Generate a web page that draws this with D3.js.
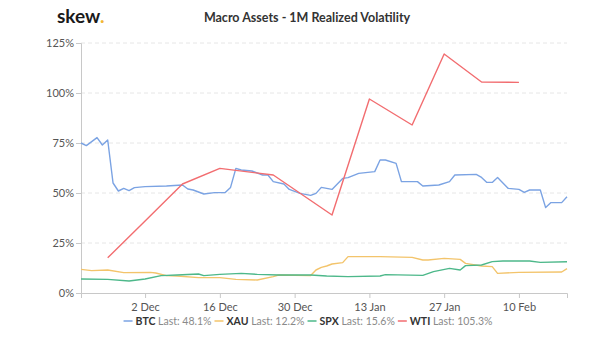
<!DOCTYPE html>
<html>
<head>
<meta charset="utf-8">
<script src="https://cdn.jsdelivr.net/npm/d3@7"></script>
<style>
  html, body { margin: 0; padding: 0; background: #fff; }
  svg { display: block; font-family: Lato, "Open Sans", sans-serif; }
</style>
</head>
<body>
<svg id="chart" width="600" height="338"></svg>
<script>
// ---- data ----
const btcDates = ["2019-11-20","2019-11-21","2019-11-23","2019-11-24","2019-11-25","2019-11-26","2019-11-27","2019-11-28","2019-11-29","2019-11-30","2019-12-02","2019-12-06","2019-12-09","2019-12-10","2019-12-11","2019-12-13","2019-12-15","2019-12-17","2019-12-18","2019-12-19","2019-12-20","2019-12-22","2019-12-24","2019-12-25","2019-12-26","2019-12-28","2019-12-29","2019-12-31","2020-01-02","2020-01-03","2020-01-04","2020-01-06","2020-01-08","2020-01-09","2020-01-11","2020-01-14","2020-01-15","2020-01-16","2020-01-18","2020-01-19","2020-01-22","2020-01-23","2020-01-26","2020-01-28","2020-01-29","2020-02-02","2020-02-03","2020-02-04","2020-02-05","2020-02-06","2020-02-08","2020-02-10","2020-02-11","2020-02-12","2020-02-14","2020-02-15","2020-02-16","2020-02-18","2020-02-19"];
const btcValues = [75,73.7,77.7,74,76.5,55,51,52.3,51.2,52.7,53.2,53.5,54,52,51.5,49.5,50.2,50.2,52.8,62.3,61.5,61,59,59,55.7,54.5,51.8,49.8,48.8,49.8,52.8,51.8,57.3,57.7,59.8,60.7,66.5,66.5,64.8,55.7,55.7,53.5,54,55.7,59,59.3,57.8,55.3,55.3,57.7,52.3,51.8,50.3,51.5,51.5,42.7,45.2,45.2,48.1];

const xauDates = ["2019-11-20","2019-11-22","2019-11-25","2019-11-28","2019-12-03","2019-12-04","2019-12-06","2019-12-08","2019-12-12","2019-12-16","2019-12-19","2019-12-23","2019-12-26","2019-12-27","2020-01-02","2020-01-03","2020-01-04","2020-01-05","2020-01-06","2020-01-08","2020-01-09","2020-01-15","2020-01-21","2020-01-23","2020-01-24","2020-01-27","2020-01-30","2020-01-31","2020-02-03","2020-02-05","2020-02-06","2020-02-10","2020-02-18","2020-02-19"];
const xauValues = [11.8,11.2,11.5,10.2,10.3,10,8.7,8.5,7.7,7.7,6.8,6.5,8.2,9,8.7,11.5,12.8,13.5,14.5,15.2,18.2,18.2,17.8,16.5,16.5,17.3,16.8,14.8,13.5,13.2,9.8,10.3,10.5,12.2];

const spxDates = ["2019-11-20","2019-11-25","2019-11-29","2019-12-02","2019-12-05","2019-12-08","2019-12-12","2019-12-13","2019-12-16","2019-12-20","2019-12-23","2019-12-27","2020-01-02","2020-01-05","2020-01-09","2020-01-15","2020-01-16","2020-01-23","2020-01-25","2020-01-28","2020-01-30","2020-01-31","2020-02-03","2020-02-05","2020-02-07","2020-02-12","2020-02-14","2020-02-19"];
const spxValues = [7,6.8,6,7,8.7,9,9.5,8.7,9.3,9.8,9.3,9,9,8.5,8.2,8.5,9.2,8.8,10.7,12.3,11.5,13.7,14,15.7,16,16,15.3,15.6];

const wtiDates = ["2019-11-25","2019-12-02","2019-12-09","2019-12-16","2019-12-26","2020-01-06","2020-01-13","2020-01-21","2020-01-27","2020-02-03","2020-02-10"];
const wtiValues = [17.6,36,54.5,62.3,59,39,97,84,119.5,105.5,105.3];

const seriesNames = ["BTC","XAU","SPX","WTI"];
const seriesLast = ["48.1%","12.2%","15.6%","105.3%"];
const yTicks = [0,25,50,75,100,125];
const xTickDates = ["2019-12-02","2019-12-16","2019-12-30","2020-01-13","2020-01-27","2020-02-10"];
const xDomain = ["2019-11-20","2020-02-19"];
const titleText = "Macro Assets - 1M Realized Volatility";

// ---- chart ----
const colors = {BTC:"#7ba3e3", XAU:"#f3c46b", SPX:"#4db88a", WTI:"#f26d70"};
const parse = d3.timeParse("%Y-%m-%d");
const svg = d3.select("#chart");

const x = d3.scaleTime().domain(xDomain.map(parse)).range([81, 567]);
const y = d3.scaleLinear().domain([0,125]).range([293, 43]);

// gridlines
svg.append("g").selectAll("line").data(yTicks.filter(t=>t>0)).join("line")
  .attr("x1", 81).attr("x2", 567)
  .attr("y1", d=>y(d)).attr("y2", d=>y(d))
  .attr("stroke", "#e6e6e6").attr("stroke-width", 1).attr("stroke-dasharray", "4,3");

// y axis
const yAxis = svg.append("g").attr("transform","translate(81,0)")
  .call(d3.axisLeft(y).tickValues(yTicks).tickFormat(d=>d+"%").tickSize(5).tickPadding(2));
yAxis.select(".domain").attr("stroke","#c8c8c8");
yAxis.selectAll(".tick line").attr("stroke","#c8c8c8");
yAxis.selectAll("text").attr("fill","#555").style("font-size","11px").style("font-family","Lato");

// x axis
const xAxis = svg.append("g").attr("transform","translate(0,293)")
  .call(d3.axisBottom(x).tickValues(xTickDates.map(parse)).tickFormat(d3.timeFormat("%-d %b")).tickSize(5).tickPadding(5));
xAxis.select(".domain").attr("stroke","#c8c8c8");
xAxis.selectAll(".tick line").attr("stroke","#c8c8c8");
xAxis.selectAll("text").attr("fill","#555").style("font-size","11px").style("font-family","Lato");

// lines
const series = [
  {name:"BTC", dates:btcDates, values:btcValues},
  {name:"XAU", dates:xauDates, values:xauValues},
  {name:"SPX", dates:spxDates, values:spxValues},
  {name:"WTI", dates:wtiDates, values:wtiValues}
];
const line = d3.line().x(d=>x(d[0])).y(d=>y(d[1]));
["XAU","SPX","BTC","WTI"].forEach(n=>{
  const s = series.find(q=>q.name===n);
  const pts = s.dates.map((d,i)=>[parse(d), s.values[i]]);
  svg.append("path").datum(pts).attr("d", line)
    .attr("fill","none").attr("stroke", colors[n]).attr("stroke-width",1.4)
    .attr("stroke-linejoin","round");
});

// title
svg.append("text").attr("x", 307).attr("y", 22).attr("text-anchor","middle")
  .style("font-size","12.5px").style("font-weight","bold").attr("fill","#333")
  .text(titleText);

// logo
const logo = svg.append("text").attr("x", 57).attr("y", 23)
  .style("font-size","19px").style("font-weight","bold").attr("fill","#1a1a1a");
logo.append("tspan").text("skew");
logo.append("tspan").attr("fill","#f2b632").text(".");

// legend
const leg = svg.append("g");
const items = [];
seriesNames.forEach((n,i)=>{
  const g = leg.append("g");
  g.append("line").attr("x1",0).attr("x2",9).attr("y1",-4).attr("y2",-4)
    .attr("stroke", colors[n]).attr("stroke-width",1.5);
  const t = g.append("text").attr("x", 12).attr("y", 0).style("font-size","10.5px");
  t.append("tspan").style("font-weight","bold").attr("fill","#333").text(n);
  t.append("tspan").attr("fill","#8a8a8a").text(" Last: " + seriesLast[i]);
  const w = 12 + t.node().getComputedTextLength();
  items.push({g, w});
});
const gap = 3;
const total = d3.sum(items, d=>d.w) + gap*(items.length-1);
let start = 308 - total/2;
items.forEach(it=>{
  it.g.attr("transform", `translate(${start},325)`);
  start += it.w + gap;
});
</script>
</body>
</html>
